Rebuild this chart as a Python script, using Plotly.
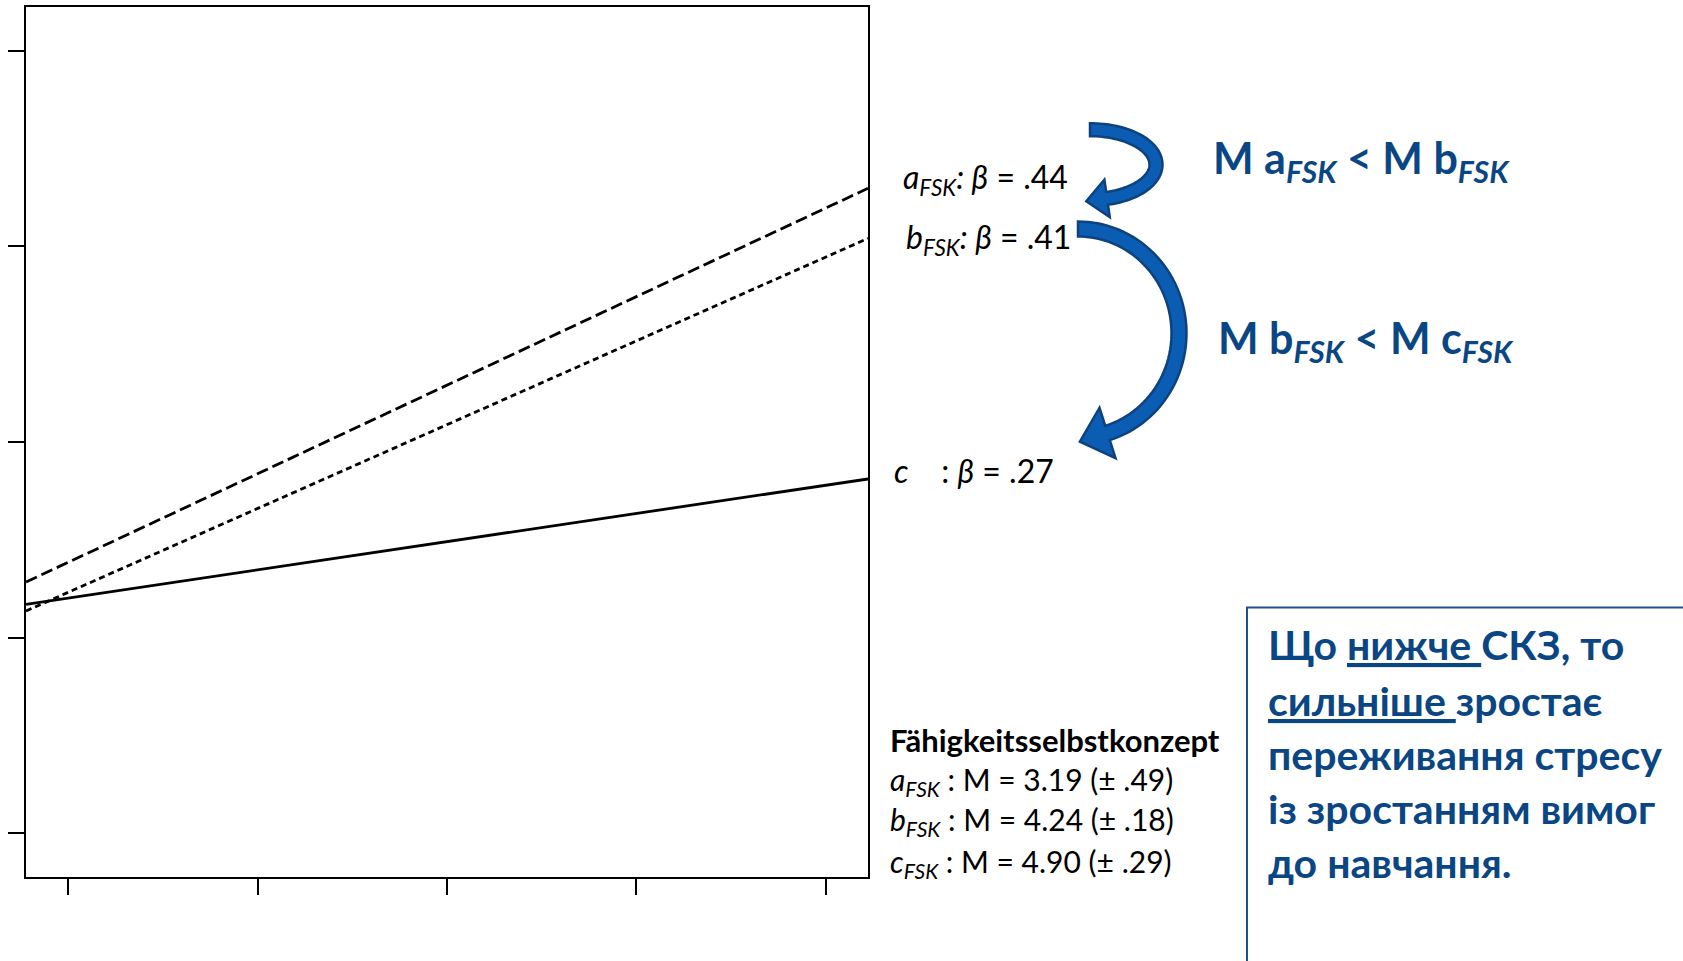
import numpy as np
import plotly.graph_objects as go

# demand level at the two ends of each regression line (left / right frame)
demand = [0.776, 5.224]
fsk_a = [2.284, 4.297]
fsk_b = [2.136, 4.041]
fsk_c = [2.170, 2.811]

tick_vals = [1, 2, 3, 4, 5]
axis_range = [0.776, 5.224]

beta_labels = [
    "<i>a<sub>FSK</sub>: β</i> = .44",
    "<i>b<sub>FSK</sub>: β</i> = .41",
    "<i>c</i>    : <i>β</i> = .27",
]
means_title = "<b>Fähigkeitsselbstkonzept</b>"
means_lines = [
    "<i>a<sub>FSK</sub></i> : M = 3.19 (± .49)",
    "<i>b<sub>FSK</sub></i> : M = 4.24 (± .18)",
    "<i>c<sub>FSK</sub></i> : M = 4.90 (± .29)",
]
comparisons = [
    "<b>M a<sub><i>FSK</i></sub> &lt; M b<sub><i>FSK</i></sub></b>",
    "<b>M b<sub><i>FSK</i></sub> &lt; M c<sub><i>FSK</i></sub></b>",
]
box_lines = [
    "<b>Що <u>нижче </u>СКЗ, то</b>",
    "<b><u>сильніше </u>зростає</b>",
    "<b>переживання стресу</b>",
    "<b>із зростанням вимог</b>",
    "<b>до навчання.</b>",
]

W, H = 1683, 961
PL, PR, PT, PB = 26, 868, 5, 877
FONT = "Lato, 'Noto Sans', sans-serif"
BLUE_TXT = "#0A4683"


def px(x):
    return (x - PL) / (PR - PL)


def py(y):
    return (PB - y) / (PB - PT)


def arrow_path(cx, cy, rx, ry, t_end, width, head_w, head_len):
    # curved block arrow: elliptic centreline from the top, clockwise
    t = np.radians(np.linspace(-90, t_end, 60))
    xs = cx + rx * np.cos(t)
    ys = cy + ry * np.sin(t)
    dx = -rx * np.sin(t)
    dy = ry * np.cos(t)
    n = np.hypot(dx, dy)
    ux, uy = dx / n, dy / n
    nx, ny = -uy, ux
    outer = [(xs[i] - nx[i] * width / 2, ys[i] - ny[i] * width / 2) for i in range(len(t))]
    inner = [(xs[i] + nx[i] * width / 2, ys[i] + ny[i] * width / 2) for i in range(len(t))]
    bx, by = xs[-1], ys[-1]
    hx, hy = nx[-1], ny[-1]
    tip = (bx + ux[-1] * head_len, by + uy[-1] * head_len)
    pts = outer + [
        (bx - hx * head_w / 2, by - hy * head_w / 2),
        tip,
        (bx + hx * head_w / 2, by + hy * head_w / 2),
    ] + inner[::-1]
    d = "M " + " L ".join(f"{px(a):.5f},{py(b):.5f}" for a, b in pts) + " Z"
    return d


fig = go.Figure()
line_style = dict(color="black", width=2.8)
fig.add_trace(go.Scatter(x=demand, y=fsk_c, mode="lines", line=line_style))
fig.add_trace(go.Scatter(x=demand, y=fsk_a, mode="lines", line=dict(line_style, dash="12px,5px")))
fig.add_trace(go.Scatter(x=demand, y=fsk_b, mode="lines", line=dict(line_style, dash="6px,4px")))

axis_common = dict(
    range=axis_range,
    tickvals=tick_vals,
    showticklabels=False,
    ticks="outside",
    ticklen=16,
    tickwidth=2,
    tickcolor="black",
    showline=True,
    mirror=True,
    linecolor="black",
    linewidth=2,
    showgrid=False,
    zeroline=False,
)
fig.update_xaxes(**axis_common)
fig.update_yaxes(**axis_common)

annotations = []
for text, (x, y) in zip(beta_labels, [(901, 177), (904, 238), (892, 470)]):
    annotations.append(dict(text=text, x=px(x), y=py(y), font=dict(size=32, color="black")))
annotations.append(dict(text=means_title, x=px(888), y=py(740), font=dict(size=31, color="black")))
for text, y in zip(means_lines, [781, 821, 863]):
    annotations.append(dict(text=text, x=px(888), y=py(y), font=dict(size=30, color="black")))
for text, (x, y) in zip(comparisons, [(1211, 159), (1216, 339)]):
    annotations.append(dict(text=text, x=px(x), y=py(y), font=dict(size=43, color=BLUE_TXT)))
for text, y in zip(box_lines, [644, 700, 754, 808, 862]):
    annotations.append(dict(text=text, x=px(1266), y=py(y), font=dict(size=41, color=BLUE_TXT)))
for a in annotations:
    a.update(xref="paper", yref="paper", xanchor="left", yanchor="middle", showarrow=False)

shapes = [
    dict(type="rect", xref="paper", yref="paper",
         x0=px(1247), y0=py(607), x1=px(W + 20), y1=py(H + 20),
         line=dict(color="#1F4E89", width=2), fillcolor="rgba(0,0,0,0)"),
    dict(type="path", xref="paper", yref="paper",
         path=arrow_path(1090, 163, 66, 35, 75, 13, 38, 21),
         fillcolor="#0A5DB3", line=dict(color="#0E427D", width=2.5)),
    dict(type="path", xref="paper", yref="paper",
         path=arrow_path(1078, 332, 101, 104.5, 73, 15, 53, 29),
         fillcolor="#0A5DB3", line=dict(color="#0E427D", width=2.5)),
]

fig.update_layout(
    width=W,
    height=H,
    margin=dict(l=PL, r=W - PR, t=PT, b=H - PB, pad=0),
    paper_bgcolor="white",
    plot_bgcolor="white",
    showlegend=False,
    font=dict(family=FONT),
    annotations=annotations,
    shapes=shapes,
)

# drop the default page margin so the figure sits at the window origin
fig.write_html(
    "out.html",
    config={"displayModeBar": False},
    post_script="document.body.style.margin='0';",
)
